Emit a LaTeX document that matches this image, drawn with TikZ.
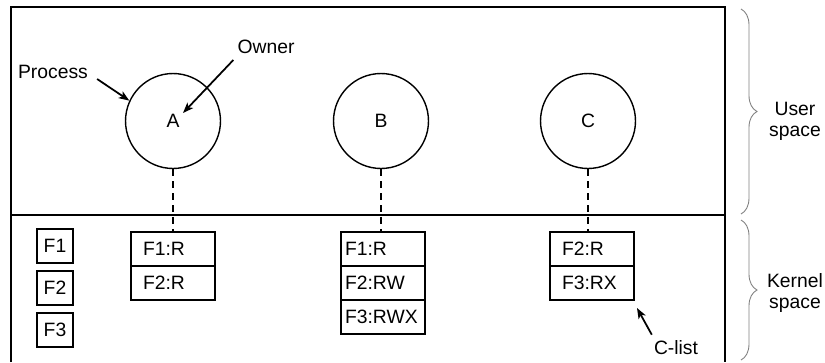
\documentclass[tikz,border=0pt]{standalone}
\usepackage{fontspec}
\setmainfont{Liberation Sans}
\usetikzlibrary{positioning,arrows.meta,decorations.pathreplacing}

\begin{document}
\begin{tikzpicture}[x=0.02cm,y=-0.02cm,
    font=\fontsize{11}{12}\selectfont,
    proc/.style={draw,circle,line width=0.8pt,minimum size=1.9cm,inner sep=0pt},
    capa/.style={draw,line width=0.8pt,minimum height=0.68cm,inner ysep=0pt,outer sep=0pt,
      inner xsep=0.24cm,text width=1.2cm,align=left},
    capb/.style={capa,inner xsep=0.08cm,text width=1.52cm},
    fbox/.style={draw,line width=0.8pt,minimum width=0.72cm,minimum height=0.68cm,inner sep=0pt},
    link/.style={line width=0.8pt,dash pattern=on 3.8pt off 3pt},
    pointer/.style={line width=1pt,-{Stealth[length=6pt,width=4.5pt,inset=1.5pt]}},
    spacebrace/.style={gray,line width=0.5pt,decorate,decoration={brace,amplitude=0.32cm}}]
    \useasboundingbox (0,0) rectangle (825,362);
    % frame and user/kernel split
    \draw[line width=1.1pt] (11,362) -- (11,7) -- (725,7) -- (725,362);
    \draw[line width=1.1pt] (11,215) -- (725,215);
    % processes
    \node[proc] (a) at (173,121) {A};
    \node[proc] (b) at (381,121) {B};
    \node[proc] (c) at (588,121) {C};
    % objects
    \foreach \i/\y in {1/246,2/288,3/330} {
      \node[fbox] (f\i) at (55,\y) {F\i};
    }
    % capability lists
    \node[capa] (a1) at (173,249) {F1:R};
    \node[capa,below=0pt of a1] (a2) {F2:R};
    \node[capb] (b1) at (383,249) {F1:R};
    \node[capb,below=0pt of b1] (b2) {F2:RW};
    \node[capb,below=0pt of b2] (b3) {F3:RWX};
    \node[capa] (c1) at (592,249) {F2:R};
    \node[capa,below=0pt of c1] (c2) {F3:RX};
    \draw[link] (a.south) -- (a.south |- a1.north);
    \draw[link] (b.south) -- (b.south |- b1.north);
    \draw[link] (c.south) -- (c.south |- c1.north);
    % labels
    \node (process) at (53,72) {Process};
    \node (owner) at (266,47) {Owner};
    \node (clist) at (676,348) {C-list};
    \draw[pointer] ([shift={(3,7)}]process.east) -- (a.155);
    \draw[pointer] ([shift={(2,13)}]owner.west) -- ([shift={(10,-8)}]a.center);
    \draw[pointer] ([shift={(4,0)}]clist.north west) -- ([shift={(3,8)}]c2.south east);
    % braces
    \draw[spacebrace] (741,9) -- (741,214);
    \draw[spacebrace] (741,220) -- (741,360);
    \node[align=center] (user) at (795,121) {User\\space};
    \node[align=center] (kernel) at (795,293) {Kernel\\space};
  \end{tikzpicture}
\end{document}
